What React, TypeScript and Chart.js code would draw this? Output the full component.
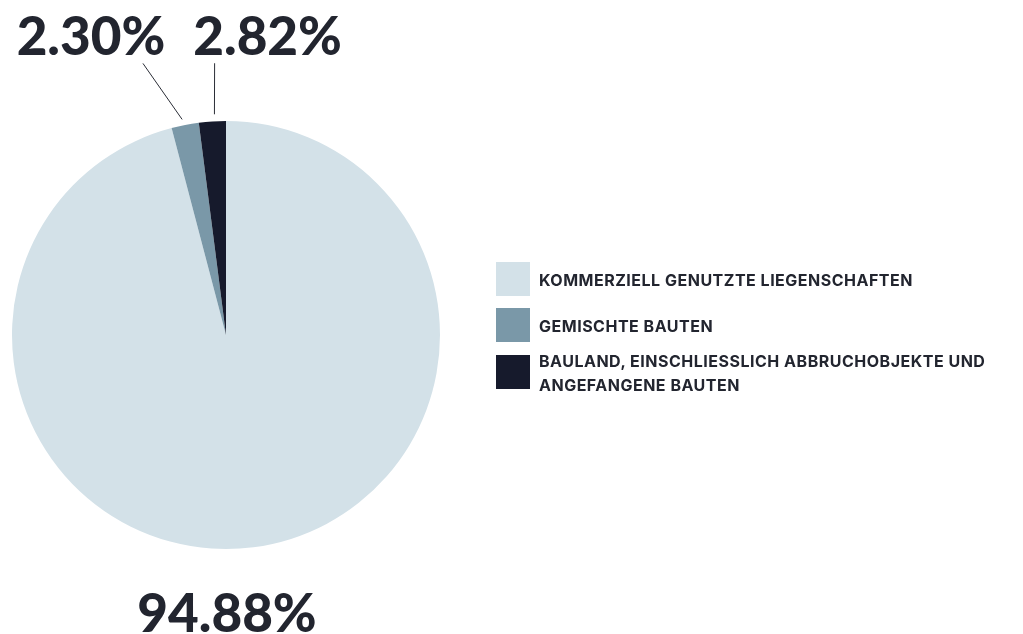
import React, { useEffect, useRef } from "react";
import { Chart, registerables } from "chart.js";

Chart.register(...registerables);

const categories = [
  "KOMMERZIELL GENUTZTE LIEGENSCHAFTEN",
  "GEMISCHTE BAUTEN",
  "BAULAND, EINSCHLIESSLICH ABBRUCHOBJEKTE UND ANGEFANGENE BAUTEN",
];
// slice sizes as drawn in the picture (arc angles measured)
const values = [95.91, 2.06, 2.03];
const valueLabels = ["94.88%", "2.30%", "2.82%"];
const colors = ["#d3e1e8", "#7a98a8", "#161a2c"];

const TEXT = "#22252f";
const BIG_FONT = "Lato, 'DejaVu Sans', sans-serif";
const LEGEND_FONT = "Inter, 'DejaVu Sans', sans-serif";

// label layout (polar angles in degrees from 12 o'clock, negative = counter-clockwise)
const labelLayout = [
  { type: "bottom", gap: 83 },
  { type: "leader", a1: -11.5, r1: 6, a2: -17, r2: 70, tdx: -52, tdy: -8 },
  { type: "leader", a1: -3, r1: 7, a2: -2.4, r2: 58, tdx: 53, tdy: -8 },
];

const labelPlugin = {
  id: "pctLabels",
  afterDraw(chart: any) {
    const meta = chart.getDatasetMeta(0);
    const ctx = chart.ctx;
    const arc0 = meta.data[0];
    if (!arc0) return;
    const cx = arc0.x;
    const cy = arc0.y;
    const r = arc0.outerRadius;
    const polar = (deg: number, rad: number) => {
      const t = (deg * Math.PI) / 180;
      return { x: cx + rad * Math.sin(t), y: cy - rad * Math.cos(t) };
    };
    ctx.save();
    ctx.fillStyle = TEXT;
    ctx.font = `900 53px ${BIG_FONT}`;
    ctx.textAlign = "center";
    ctx.textBaseline = "alphabetic";
    labelLayout.forEach((l: any, i: number) => {
      if (l.type === "bottom") {
        ctx.fillText(valueLabels[i], cx + 1, cy + r + l.gap);
      } else {
        const p1 = polar(l.a1, r + l.r1);
        const p2 = polar(l.a2, r + l.r2);
        ctx.strokeStyle = "#2a2d36";
        ctx.lineWidth = 1;
        ctx.beginPath();
        ctx.moveTo(p1.x, p1.y);
        ctx.lineTo(p2.x, p2.y);
        ctx.stroke();
        ctx.fillText(valueLabels[i], p2.x + l.tdx, p2.y + l.tdy);
      }
    });
    ctx.restore();
  },
};

export default function App() {
  const ref = useRef<HTMLCanvasElement | null>(null);
  useEffect(() => {
    if (!ref.current) return;
    const chart = new Chart(ref.current, {
      type: "pie",
      data: {
        labels: categories,
        datasets: [
          {
            data: values,
            backgroundColor: colors,
            borderWidth: 0,
          },
        ],
      },
      options: {
        animation: false,
        responsive: false,
        layout: { padding: { left: 12, top: 121, right: 583, bottom: 85 } },
        plugins: { legend: { display: false }, tooltip: { enabled: false } },
      },
      plugins: [labelPlugin],
    });
    return () => chart.destroy();
  }, []);

  const gaps = [12, 6, 0];

  return (
    <div
      style={{
        position: "fixed",
        left: 0,
        top: 0,
        width: 1023,
        height: 634,
        background: "#fff",
        overflow: "hidden",
      }}
    >
      <canvas ref={ref} width={1023} height={634} style={{ position: "absolute", left: 0, top: 0 }} />
      <div style={{ position: "absolute", left: 496, top: 262, width: 527 }}>
        {categories.map((c, i) => (
          <div
            key={c}
            style={{ display: "flex", alignItems: "center", marginBottom: gaps[i] }}
          >
            <div style={{ width: 34, height: 34, background: colors[i], flex: "0 0 34px" }} />
            <div
              style={{
                marginLeft: 9,
                font: `700 16px ${LEGEND_FONT}`,
                lineHeight: "24px",
                letterSpacing: 0.5,
                color: TEXT,
                width: 484,
                position: "relative",
                top: 1,
              }}
            >
              {c}
            </div>
          </div>
        ))}
      </div>
    </div>
  );
}
